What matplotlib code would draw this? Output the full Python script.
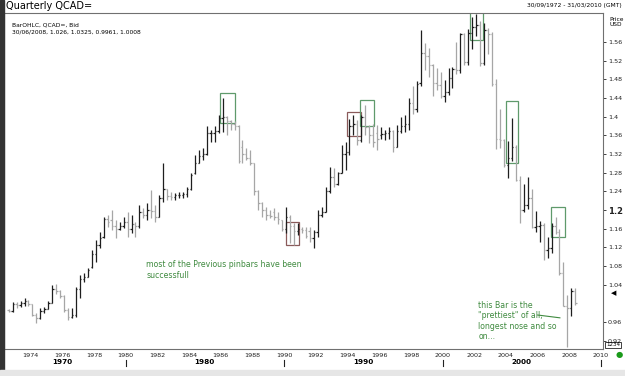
import numpy as np
import matplotlib.pyplot as plt
from matplotlib.patches import Rectangle

# Quarterly USD/CAD bars, 1972 Q3 .. 2008 Q2 (open, high, low, close)
first_year, first_q = 1972, 3
opens = [
    0.985, 0.984,
    0.998, 0.996, 1.000, 1.005,
    0.998, 0.975, 0.969, 0.984,
    0.988, 1.000, 1.030, 1.026,
    1.015, 0.985, 0.970, 0.976,
    1.030, 1.052, 1.057, 1.078,
    1.105, 1.125, 1.142, 1.180,
    1.178, 1.165, 1.160, 1.166,
    1.175, 1.160, 1.170, 1.165,
    1.195, 1.190, 1.200, 1.198,
    1.186, 1.225, 1.245, 1.230,
    1.228, 1.232, 1.232, 1.235,
    1.245, 1.280, 1.300, 1.315,
    1.320, 1.365, 1.365, 1.370,
    1.397, 1.400, 1.390, 1.385,
    1.380, 1.335, 1.320, 1.312,
    1.300, 1.240, 1.215, 1.200,
    1.190, 1.195, 1.185, 1.178,
    1.160, 1.185, 1.165, 1.155,
    1.160, 1.157, 1.155, 1.140,
    1.152, 1.190, 1.195, 1.240,
    1.270, 1.255, 1.280, 1.320,
    1.325, 1.380, 1.385, 1.350,
    1.400, 1.378, 1.360, 1.365,
    1.360, 1.363, 1.365, 1.370,
    1.335, 1.370, 1.380, 1.385,
    1.430, 1.417, 1.472, 1.536,
    1.530, 1.510, 1.472, 1.468,
    1.445, 1.452, 1.482, 1.502,
    1.499, 1.577, 1.518, 1.579,
    1.593, 1.596, 1.516, 1.586,
    1.577, 1.470, 1.353, 1.349,
    1.296, 1.311, 1.334, 1.264,
    1.199, 1.210, 1.226, 1.163,
    1.166, 1.167, 1.115, 1.118,
    1.165, 1.153, 1.065, 0.995,
    0.990, 1.026,
]
highs = [
    0.988, 1.002,
    1.003, 1.004, 1.011, 1.008,
    0.999, 0.979, 0.989, 0.993,
    1.005, 1.039, 1.041, 1.029,
    1.018, 0.989, 0.991, 1.036,
    1.061, 1.064, 1.076, 1.114,
    1.136, 1.153, 1.186, 1.189,
    1.200, 1.178, 1.175, 1.184,
    1.196, 1.189, 1.175, 1.211,
    1.204, 1.214, 1.243, 1.211,
    1.232, 1.300, 1.246, 1.239,
    1.236, 1.239, 1.239, 1.250,
    1.279, 1.318, 1.328, 1.332,
    1.379, 1.371, 1.379, 1.404,
    1.439, 1.402, 1.392, 1.390,
    1.382, 1.350, 1.332, 1.328,
    1.301, 1.243, 1.218, 1.207,
    1.200, 1.204, 1.196, 1.179,
    1.207, 1.189, 1.172, 1.172,
    1.164, 1.164, 1.164, 1.157,
    1.200, 1.207, 1.250, 1.293,
    1.289, 1.282, 1.339, 1.346,
    1.394, 1.403, 1.393, 1.403,
    1.425, 1.382, 1.385, 1.382,
    1.378, 1.371, 1.378, 1.371,
    1.382, 1.400, 1.403, 1.439,
    1.465, 1.477, 1.586, 1.558,
    1.547, 1.512, 1.505, 1.495,
    1.479, 1.505, 1.506, 1.560,
    1.580, 1.580, 1.588, 1.613,
    1.619, 1.604, 1.600, 1.590,
    1.582, 1.481, 1.416, 1.352,
    1.347, 1.397, 1.340, 1.272,
    1.256, 1.270, 1.246, 1.197,
    1.177, 1.172, 1.143, 1.172,
    1.185, 1.159, 1.089, 1.018,
    1.033, 1.0325,
]
lows = [
    0.981, 0.982,
    0.989, 0.993, 0.995, 0.994,
    0.972, 0.957, 0.966, 0.979,
    0.987, 1.000, 1.021, 1.011,
    0.981, 0.964, 0.968, 0.971,
    1.011, 1.045, 1.057, 1.076,
    1.089, 1.118, 1.140, 1.164,
    1.157, 1.140, 1.157, 1.161,
    1.143, 1.150, 1.143, 1.161,
    1.182, 1.179, 1.182, 1.175,
    1.186, 1.218, 1.221, 1.221,
    1.221, 1.225, 1.225, 1.228,
    1.243, 1.278, 1.300, 1.307,
    1.318, 1.346, 1.346, 1.364,
    1.368, 1.361, 1.371, 1.371,
    1.300, 1.300, 1.307, 1.296,
    1.232, 1.200, 1.186, 1.179,
    1.183, 1.179, 1.171, 1.154,
    1.150, 1.129, 1.125, 1.147,
    1.150, 1.139, 1.132, 1.118,
    1.143, 1.186, 1.195, 1.236,
    1.250, 1.254, 1.279, 1.286,
    1.318, 1.361, 1.339, 1.345,
    1.360, 1.343, 1.335, 1.328,
    1.353, 1.350, 1.353, 1.325,
    1.335, 1.364, 1.367, 1.371,
    1.405, 1.411, 1.465, 1.500,
    1.485, 1.444, 1.458, 1.440,
    1.432, 1.447, 1.462, 1.492,
    1.493, 1.510, 1.510, 1.545,
    1.572, 1.508, 1.510, 1.535,
    1.466, 1.331, 1.333, 1.292,
    1.269, 1.305, 1.263, 1.172,
    1.196, 1.203, 1.161, 1.152,
    1.132, 1.093, 1.098, 1.108,
    1.149, 1.060, 0.994, 0.906,
    0.972, 0.9961,
]
closes = [
    0.984, 0.998,
    0.996, 1.000, 1.005, 0.998,
    0.975, 0.969, 0.984, 0.988,
    1.000, 1.030, 1.026, 1.015,
    0.985, 0.970, 0.976, 1.030,
    1.052, 1.057, 1.072, 1.105,
    1.125, 1.140, 1.180, 1.175,
    1.165, 1.160, 1.166, 1.175,
    1.160, 1.170, 1.165, 1.195,
    1.190, 1.200, 1.198, 1.186,
    1.225, 1.245, 1.230, 1.228,
    1.232, 1.232, 1.235, 1.245,
    1.275, 1.300, 1.315, 1.320,
    1.365, 1.365, 1.370, 1.397,
    1.400, 1.390, 1.385, 1.380,
    1.305, 1.320, 1.312, 1.300,
    1.240, 1.215, 1.200, 1.190,
    1.188, 1.185, 1.180, 1.160,
    1.185, 1.165, 1.155, 1.160,
    1.157, 1.145, 1.140, 1.152,
    1.190, 1.195, 1.240, 1.270,
    1.255, 1.280, 1.320, 1.325,
    1.380, 1.385, 1.350, 1.400,
    1.378, 1.360, 1.345, 1.352,
    1.363, 1.365, 1.370, 1.335,
    1.370, 1.380, 1.385, 1.430,
    1.417, 1.470, 1.536, 1.530,
    1.510, 1.472, 1.468, 1.445,
    1.452, 1.482, 1.502, 1.499,
    1.577, 1.518, 1.579, 1.593,
    1.596, 1.516, 1.586, 1.577,
    1.470, 1.353, 1.349, 1.296,
    1.311, 1.334, 1.264, 1.199,
    1.210, 1.226, 1.163, 1.166,
    1.167, 1.115, 1.118, 1.165,
    1.153, 1.065, 0.995, 0.990,
    1.027, 1.0008,
]

# highlighted pinbar boxes: (start year, end year, low, high, colour)
boxes = [
    (1985.95, 1986.9, 1.386, 1.451, "#5f9a6b"),
    (1990.15, 1990.95, 1.125, 1.174, "#8a5a5a"),
    (1993.95, 1994.85, 1.359, 1.410, "#8a5a5a"),
    (1994.8, 1995.7, 1.380, 1.436, "#5f9a6b"),
    (2001.75, 2002.55, 1.564, 1.626, "#5f9a6b"),
    (2004.0, 2004.75, 1.301, 1.434, "#5f9a6b"),
    (2006.85, 2007.75, 1.142, 1.206, "#5f9a6b"),
]

year_ticks = list(range(1974, 2011, 2))
decade_labels = ["1970", "1980", "1990", "2000"]
decade_pos = [1976, 1985, 1995, 2005]
price_ticks = [0.92, 0.96, 1.04, 1.08, 1.12, 1.16, 1.2, 1.24, 1.28, 1.32,
               1.36, 1.4, 1.44, 1.48, 1.52, 1.56]

W, H = 625, 376
fig = plt.figure(figsize=(W / 100, H / 100), dpi=100, facecolor="white")


def px(x, y):
    return x / W, 1 - y / H


ax = fig.add_axes([4 / W, (H - 349) / H, 599 / W, 336 / H])
ax.set_xlim(1972.33, 2010.12)
ax.set_ylim(0.9022, 1.6221)

n = len(opens)
t = first_year + (first_q - 1) * 0.25 + 0.125 + 0.25 * np.arange(n)
o = np.array(opens)
h = np.array(highs)
l = np.array(lows)
c = np.array(closes)
cols = np.where(c >= o, "#1e1e1e", "#a6a6a6")
tick = 0.085
ax.vlines(t, l, h, colors=cols, lw=0.9)
ax.hlines(o, t - tick, t, colors=cols, lw=0.9)
ax.hlines(c, t, t + tick, colors=cols, lw=0.9)

for x0, x1, y0, y1, col in boxes:
    ax.add_patch(Rectangle((x0, y0), x1 - x0, y1 - y0, fill=False,
                           edgecolor=col, lw=0.9))

ax.text(1981.3, 1.093, "most of the Previous pinbars have been\nsuccessfull",
        fontsize=5.6, color="#3f8a3f", va="top", linespacing=1.25)
ax.text(2002.25, 1.005, "this Bar is the\n\"prettiest\" of all,\nlongest nose and so\non...",
        fontsize=5.6, color="#3f8a3f", va="top", linespacing=1.2)
ax.plot([2006.0, 2007.4], [0.975, 0.969], color="#3f8a3f", lw=0.8)

ax.yaxis.tick_right()
ax.set_yticks(price_ticks)
ax.set_yticklabels(["%g" % v for v in price_ticks])
ax.tick_params(axis="y", labelsize=4.6, length=2, width=0.6, pad=1.5,
               colors="#222222")
for lab in ax.get_yticklabels():
    if lab.get_text() == "1.2":
        lab.set_fontsize(6)
        lab.set_fontweight("bold")

ax.set_xticks(year_ticks)
ax.set_xticklabels([str(y) for y in year_ticks])
ax.tick_params(axis="x", labelsize=4.6, length=0, pad=3, colors="#222222")
for s in ax.spines.values():
    s.set_color("#707070")
    s.set_linewidth(0.8)

# decade row under the year labels
xt = ax.get_xaxis_transform()
for lab, yr in zip(decade_labels, decade_pos):
    ax.text(yr, -(362.5 - 349) / 336, lab, transform=xt,
            ha="center", va="center", fontsize=5.2, fontweight="bold")
for yr in [1980, 1990, 2000, 2010]:
    ax.plot([yr, yr], [-(360 - 349) / 336, -(366 - 349) / 336], transform=xt,
            color="#222222", lw=0.8, clip_on=False)

# window chrome
fig.patches.append(Rectangle((0, 0), 3.5 / W, 1, transform=fig.transFigure,
                             color="#333333"))
fig.patches.append(Rectangle((0, 0), 1, 6 / H, transform=fig.transFigure,
                             color="#e6e6e6"))
fig.text(*px(6, 6), "Quarterly QCAD=", fontsize=7, va="center", ha="left")
fig.text(*px(622, 6), "30/09/1972 - 31/03/2010 (GMT)", fontsize=4.3,
         va="center", ha="right")
fig.text(*px(12, 25), "BarOHLC, QCAD=, Bid", fontsize=4.3, va="center")
fig.text(*px(12, 32), "30/06/2008, 1.026, 1.0325, 0.9961, 1.0008",
         fontsize=4.3, va="center")
fig.text(*px(609, 22), "Price\nUSD", fontsize=4.2, va="center", ha="left",
         linespacing=1.1)
fig.text(*px(611, 293), "\u25c0", fontsize=5, va="center", ha="left")
fig.text(*px(606, 345), "1234", fontsize=4, va="center", ha="left",
         bbox=dict(boxstyle="square,pad=0.12", fc="white", ec="#222222", lw=0.6))
fig.text(*px(619, 355), "\u25cf", fontsize=6, color="#1a9a1a", va="center",
         ha="center")

fig.savefig("out.png", dpi=100, facecolor="white")
